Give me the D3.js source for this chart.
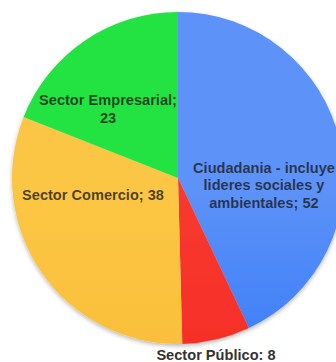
<!DOCTYPE html>
<html>
<head>
<meta charset="utf-8">
<script src="https://cdn.jsdelivr.net/npm/d3@7"></script>
<style>
  html, body { margin: 0; padding: 0; background: #fff; }
  svg { display: block; }
</style>
</head>
<body>
<svg id="chart" width="336" height="362"></svg>
<script>
// Participants by sector
const categories = [
  "Ciudadania - incluye lideres sociales y ambientales",
  "Sector Público",
  "Sector Comercio",
  "Sector Empresarial"
];
const values = [52, 8, 38, 23];
const labelLines = [
  ["Ciudadania - incluye", "lideres sociales y", "ambientales; 52"],
  ["Sector Público: 8"],
  ["Sector Comercio; 38"],
  ["Sector Empresarial;", "23"]
];
const colorsTop = ["#5d92f8", "#f83a30", "#fcc644", "#22e342"];
const colorsBottom = ["#1a6af6", "#f2221d", "#f7b832", "#1fd23a"];

const svg = d3.select("#chart");
const cx = 178, cy = 178, r = 166;

const defs = svg.append("defs");
const shadow = defs.append("filter").attr("id", "shadow")
  .attr("x", "-10%").attr("y", "-10%").attr("width", "120%").attr("height", "125%");
shadow.append("feDropShadow").attr("dx", 0).attr("dy", 2)
  .attr("stdDeviation", 2).attr("flood-color", "#000").attr("flood-opacity", 0.28);

colorsTop.forEach((c, i) => {
  const g = defs.append("linearGradient").attr("id", "grad" + i)
    .attr("gradientUnits", "userSpaceOnUse")
    .attr("x1", 0).attr("y1", cy - r).attr("x2", 0).attr("y2", cy + r);
  g.append("stop").attr("offset", "0%").attr("stop-color", c);
  g.append("stop").attr("offset", "100%").attr("stop-color", colorsBottom[i]);
});

const pie = d3.pie().sort(null).value(d => d)(values);
const arc = d3.arc().innerRadius(0).outerRadius(r);

const g = svg.append("g").attr("transform", `translate(${cx},${cy})`);
g.append("g").attr("filter", "url(#shadow)")
  .selectAll("path").data(pie).join("path")
  .attr("d", arc)
  .attr("fill", (d, i) => `url(#grad${i})`);

// label anchor positions (relative to pie center) and line spacing
const labelPos = [
  [86, 7],
  [38, 177],
  [-85, 17],
  [-70, -69]
];
const lineH = 17.5;
const fontSize = 14.6;

const labels = g.append("g")
  .attr("font-family", "'Liberation Sans', Arial, sans-serif")
  .attr("font-weight", "bold")
  .attr("font-size", fontSize)
  .attr("text-anchor", "middle");

labelLines.forEach((lines, i) => {
  const [lx, ly] = labelPos[i];
  const t = labels.append("text")
    .attr("x", lx)
    .attr("y", ly - (lines.length - 1) * lineH / 2)
    .attr("fill", i === 1 ? "#333" : "#1a1a1a")
    .attr("fill-opacity", i === 1 ? 1 : 0.78);
  lines.forEach((line, j) => {
    t.append("tspan").attr("x", lx).attr("dy", j === 0 ? "0.35em" : lineH).text(line);
  });
});
</script>
</body>
</html>
